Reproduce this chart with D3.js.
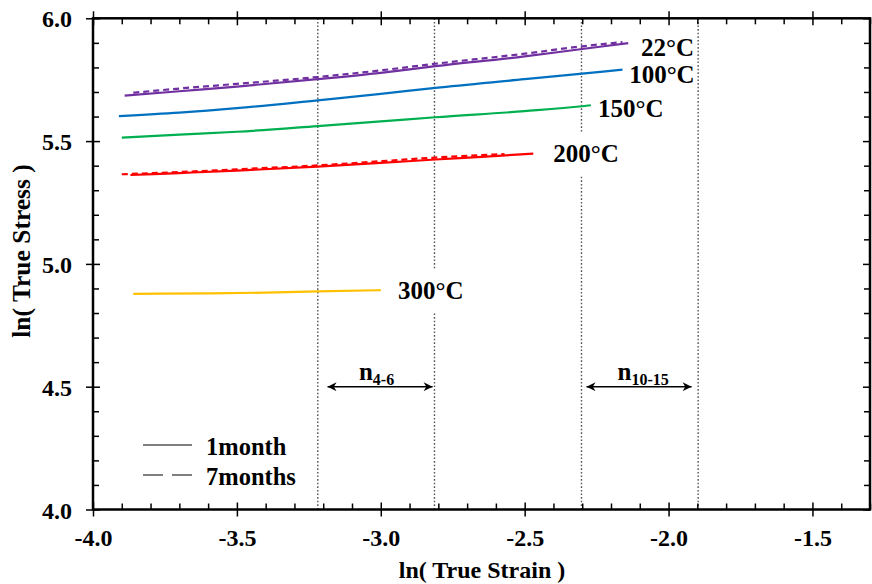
<!DOCTYPE html>
<html>
<head>
<meta charset="utf-8">
<script src="https://cdn.jsdelivr.net/npm/d3@7"></script>
<style>
  html, body { margin: 0; padding: 0; background: #fff; }
  svg { display: block; }
  text { font-family: "Liberation Serif", "Times New Roman", serif; font-weight: bold; fill: #000; }
</style>
</head>
<body>
<svg id="chart" width="872" height="584"></svg>
<script>
// ---------- data ----------
const xTickLabels = [-4.0, -3.5, -3.0, -2.5, -2.0, -1.5];
const yTickLabels = [4.0, 4.5, 5.0, 5.5, 6.0];

// 22°C
const t22Strain1m = [-3.89, -3.70, -3.50, -3.22, -3.00, -2.81, -2.50, -2.30, -2.14];
const t22Stress1m = [5.685, 5.703, 5.722, 5.752, 5.778, 5.805, 5.845, 5.875, 5.899];
const t22Strain7m = [-3.86, -3.70, -3.50, -3.22, -3.00, -2.81, -2.50, -2.30, -2.16];
const t22Stress7m = [5.697, 5.714, 5.733, 5.761, 5.788, 5.815, 5.856, 5.886, 5.903];
// 100°C
const t100Strain1m = [-3.91, -3.70, -3.50, -3.22, -3.00, -2.81, -2.50, -2.30, -2.16];
const t100Stress1m = [5.602, 5.616, 5.634, 5.666, 5.692, 5.717, 5.752, 5.775, 5.791];
// 150°C
const t150Strain1m = [-3.90, -3.70, -3.50, -3.22, -3.00, -2.81, -2.50, -2.30, -2.27];
const t150Stress1m = [5.514, 5.526, 5.538, 5.561, 5.580, 5.597, 5.622, 5.642, 5.646];
// 200°C
const t200Strain1m = [-3.87, -3.70, -3.50, -3.22, -3.00, -2.81, -2.65, -2.47];
const t200Stress1m = [5.362, 5.370, 5.380, 5.396, 5.411, 5.425, 5.436, 5.449];
const t200Strain7m = [-3.90, -3.70, -3.50, -3.22, -3.00, -2.81, -2.57];
const t200Stress7m = [5.365, 5.374, 5.385, 5.401, 5.418, 5.433, 5.447];
// 300°C
const t300Strain1m = [-3.86, -3.60, -3.40, -3.22, -3.00];
const t300Stress1m = [4.878, 4.880, 4.883, 4.888, 4.893];

const tempLabels = ["22°C", "100°C", "150°C", "200°C", "300°C"];
const tempColors = ["#7030A0", "#0070C0", "#00B050", "#FF0000", "#FFC000"];
// label anchors in data units (strain, stress)
const tempLabelStrain = [-2.096, -2.137, -2.245, -2.401, -2.940];
const tempLabelStress = [5.846, 5.736, 5.598, 5.415, 4.857];

// vertical reference lines: ln(4%), ln(6%), ln(10%), ln(15%)
const refStrains = [Math.log(0.04), Math.log(0.06), Math.log(0.10), Math.log(0.15)];
// strain-exponent ranges
const rangeStart = [-3.185, -2.285];
const rangeEnd = [-2.82, -1.92];
const rangeSub = ["4-6", "10-15"];
const rangeLabelStrain = [-3.076, -2.177];
const rangeLevel = 4.5;
const rangeLabelStress = 4.528;

const legendLabels = ["1month", "7months"];

// ---------- build series ----------
const zip = (xs, ys) => xs.map((x, i) => [x, ys[i]]);
const series = [
  { pts: zip(t22Strain1m, t22Stress1m), color: tempColors[0], dashed: false },
  { pts: zip(t22Strain7m, t22Stress7m), color: tempColors[0], dashed: true },
  { pts: zip(t100Strain1m, t100Stress1m), color: tempColors[1], dashed: false },
  { pts: zip(t150Strain1m, t150Stress1m), color: tempColors[2], dashed: false },
  { pts: zip(t200Strain1m, t200Stress1m), color: tempColors[3], dashed: false },
  { pts: zip(t200Strain7m, t200Stress7m), color: tempColors[3], dashed: true },
  { pts: zip(t300Strain1m, t300Stress1m), color: tempColors[4], dashed: false }
];

// ---------- layout ----------
const svg = d3.select("#chart");
const L = 93, R = 870, T = 18.3, B = 509.5;
const x = d3.scaleLinear().domain([-4, -1.3]).range([L, R]);
const y = d3.scaleLinear().domain([4, 6]).range([B, T]);

const xMinor = d3.range(-40, -12).map(v => v / 10).filter(v => Math.abs(v * 2 - Math.round(v * 2)) > 1e-6);
const yMinor = d3.range(40, 61).map(v => v / 10).filter(v => Math.abs(v * 2 - Math.round(v * 2)) > 1e-6);

// vertical dotted lines
svg.append("g").selectAll("line").data(refStrains).join("line")
  .attr("x1", d => x(d)).attr("x2", d => x(d))
  .attr("y1", T).attr("y2", B)
  .attr("stroke", "#555").attr("stroke-width", 1.4).attr("stroke-dasharray", "1.6,2");

// data lines
const line = d3.line().x(d => x(d[0])).y(d => y(d[1])).curve(d3.curveMonotoneX);
svg.append("g").selectAll("path").data(series).join("path")
  .attr("d", d => line(d.pts))
  .attr("fill", "none")
  .attr("stroke", d => d.color)
  .attr("stroke-width", 2.2)
  .attr("stroke-dasharray", d => d.dashed ? "6,4" : null);

// temperature labels with white backgrounds (rects first, then texts)
const rectLayer = svg.append("g");
const textLayer = svg.append("g");
const tt = textLayer.selectAll("text").data(tempLabels).join("text")
  .attr("x", (d, i) => x(tempLabelStrain[i]))
  .attr("y", (d, i) => y(tempLabelStress[i]))
  .attr("font-size", 25)
  .text(d => d);
tt.each(function () {
  const bb = this.getBBox();
  rectLayer.append("rect").attr("fill", "#fff")
    .attr("x", bb.x - 1).attr("y", bb.y - 8)
    .attr("width", bb.width + 2).attr("height", bb.height + 16);
});

// range arrows
const defs = svg.append("defs");
defs.append("marker").attr("id", "ah").attr("viewBox", "0 0 10 10")
  .attr("refX", 10).attr("refY", 5).attr("markerWidth", 11).attr("markerHeight", 9)
  .attr("markerUnits", "userSpaceOnUse").attr("orient", "auto-start-reverse")
  .append("path").attr("d", "M0,0 L10,5 L0,10 L3,5 Z").attr("fill", "#000");
svg.append("g").selectAll("line").data(rangeStart).join("line")
  .attr("x1", d => x(d)).attr("x2", (d, i) => x(rangeEnd[i]))
  .attr("y1", y(rangeLevel)).attr("y2", y(rangeLevel))
  .attr("stroke", "#000").attr("stroke-width", 1.5)
  .attr("marker-start", "url(#ah)").attr("marker-end", "url(#ah)");
const rl = svg.append("g").selectAll("text").data(rangeSub).join("text")
  .attr("x", (d, i) => x(rangeLabelStrain[i]))
  .attr("y", y(rangeLabelStress))
  .attr("font-size", 25);
rl.append("tspan").text("n");
rl.append("tspan").attr("font-size", 16).attr("dy", 5).text(d => d);

// axes
const fmt = v => d3.format(".1f")(v).replace("\u2212", "-");
const gx = svg.append("g").attr("transform", `translate(0,${B})`);
gx.call(d3.axisBottom(x).tickValues(xTickLabels).tickSize(7).tickFormat(fmt));
gx.append("g").call(d3.axisBottom(x).tickValues(xTickLabels).tickSize(-7).tickFormat(""));
gx.append("g").call(d3.axisBottom(x).tickValues(xMinor).tickSize(-6).tickFormat(""));
const gxt = svg.append("g").attr("transform", `translate(0,${T})`);
gxt.call(d3.axisTop(x).tickValues(xTickLabels).tickSize(7).tickFormat(""));
gxt.append("g").call(d3.axisTop(x).tickValues(xTickLabels).tickSize(-7).tickFormat(""));
gxt.append("g").call(d3.axisTop(x).tickValues(xMinor).tickSize(-6).tickFormat(""));

const gy = svg.append("g").attr("transform", `translate(${L},0)`);
gy.call(d3.axisLeft(y).tickValues(yTickLabels).tickSize(7).tickFormat(fmt));
gy.append("g").call(d3.axisLeft(y).tickValues(yTickLabels).tickSize(-7).tickFormat(""));
gy.append("g").call(d3.axisLeft(y).tickValues(yMinor).tickSize(-6).tickFormat(""));
const gyr = svg.append("g").attr("transform", `translate(${R},0)`);
gyr.call(d3.axisRight(y).tickValues(yTickLabels).tickSize(-7).tickFormat(""));
gyr.append("g").call(d3.axisRight(y).tickValues(yMinor).tickSize(-6).tickFormat(""));

svg.selectAll(".domain").remove();
svg.selectAll(".tick line").attr("stroke", "#000").attr("stroke-width", 1.5);
gx.selectAll(".tick text").attr("y", 36.5).attr("dy", 0)
  .attr("font-size", 24).attr("font-family", "Liberation Serif").attr("font-weight", "bold").attr("fill", "#000");
gy.selectAll(".tick text").attr("x", -21).attr("dy", "0.36em")
  .attr("font-size", 24).attr("font-family", "Liberation Serif").attr("font-weight", "bold").attr("fill", "#000");

// frame
svg.append("rect").attr("x", L).attr("y", T).attr("width", R - L).attr("height", B - T)
  .attr("fill", "none").attr("stroke", "#000").attr("stroke-width", 2.5);

// axis titles
svg.append("text").attr("x", 482).attr("y", 578).attr("text-anchor", "middle")
  .attr("font-size", 24).text("ln( True Strain )");
svg.append("text").attr("transform", "translate(30,251) rotate(-90)").attr("text-anchor", "middle")
  .attr("font-size", 25.5).text("ln( True Stress )");

// legend
const legY = [445, 475];
const lg = svg.append("g").selectAll("g").data(legendLabels).join("g");
lg.append("line").attr("x1", 143).attr("x2", 192)
  .attr("y1", (d, i) => legY[i]).attr("y2", (d, i) => legY[i])
  .attr("stroke", "#000").attr("stroke-width", 1.2)
  .attr("stroke-dasharray", (d, i) => i === 1 ? "20,9" : null);
lg.append("text").attr("x", 206).attr("y", (d, i) => legY[i] + 10)
  .attr("font-size", 24.5).text(d => d);
</script>
</body>
</html>
